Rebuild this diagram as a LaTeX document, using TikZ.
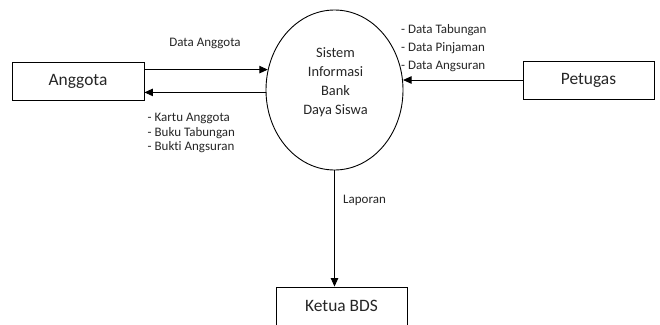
\documentclass[tikz,border=0pt]{standalone}
\usepackage{fontspec}
\setmainfont{Carlito}[Ligatures=NoCommon]
\usetikzlibrary{arrows.meta,shapes.geometric}
\begin{document}
\begin{tikzpicture}[x=1pt,y=-1pt,
  ent/.style={draw, line width=0.9pt, minimum width=132pt, minimum height=38pt, inner sep=0pt, font=\fontsize{17.4}{20}\selectfont, text=black!85},
  proc/.style={draw, line width=0.9pt, ellipse, minimum width=137pt, minimum height=160pt, inner sep=0pt},
  lbl/.style={font=\fontsize{13}{14.5}\selectfont, text=black!85, inner sep=0pt},
  arr/.style={line width=0.9pt, -{Triangle[length=8.5pt,width=7.5pt]}}]
\useasboundingbox (0,0) rectangle (660,324);
\clip (0,0) rectangle (660,324);
\fill[white] (0,0) rectangle (660,324);
\node[ent] (ang) at (78,81) {Anggota};
\node[ent, minimum width=131pt] (pet) at (588.5,80) {Petugas};
\node[ent, minimum width=131pt] (ket) at (341.5,306) {Ketua BDS};
\node[proc] (sys) at (334.5,90) {};
\node[align=center, inner sep=0pt, font=\fontsize{14.4}{19}\selectfont, text=black!85] (systext) at (335.5,82) {Sistem\\Informasi\\Bank\\Daya Siswa};
\draw[arr] (sys.163.2 -| ang.east) -- (sys.163.2);
\draw[arr] (sys.182.5) -- (sys.182.5 -| ang.east);
\draw[arr] (pet.west) -- (pet.west -| sys.7.5);
\draw[arr] (sys.south) -- (sys.south |- ket.north);
\node[lbl] (l1) at (205,43) {Data Anggota};
\node[lbl, anchor=north west, align=left] (l2) at (147.5,113) {- Kartu Anggota\\- Buku Tabungan\\- Bukti Angsuran};
\node[lbl, anchor=north west, align=left, font=\fontsize{13}{18}\selectfont] (l3) at (401,24) {- Data Tabungan\\- Data Pinjaman\\- Data Angsuran};
\node[lbl, anchor=west] (l4) at (343,200.5) {Laporan};
\end{tikzpicture}
\end{document}
